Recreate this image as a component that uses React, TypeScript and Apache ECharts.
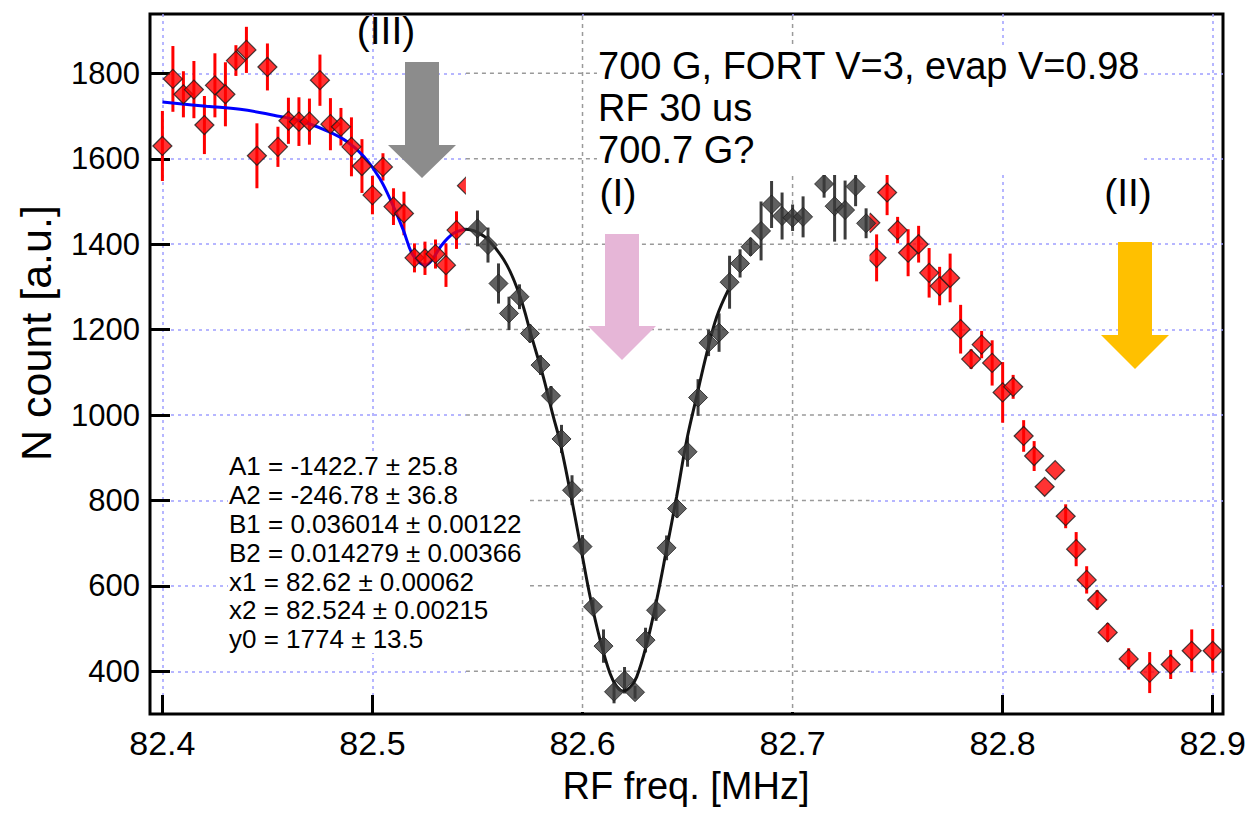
import React, { useEffect, useRef } from "react";
import * as echarts from "echarts";

// ---------- data ----------
const xTicks = [82.4, 82.5, 82.6, 82.7, 82.8, 82.9];
const yTicks = [400, 600, 800, 1000, 1200, 1400, 1600, 1800];

// red data set (full scan, partly hidden by the overlaid inset)
const redFreq = [
  82.4, 82.405, 82.41, 82.415, 82.42, 82.425, 82.43, 82.435, 82.44, 82.445,
  82.45, 82.455, 82.46, 82.465, 82.47, 82.475, 82.48, 82.485, 82.49, 82.495,
  82.5, 82.505, 82.51, 82.515, 82.52, 82.525, 82.53, 82.535, 82.54, 82.545,
  82.737, 82.74, 82.745, 82.75, 82.755, 82.76, 82.765, 82.77, 82.775, 82.78,
  82.785, 82.79, 82.795, 82.8, 82.805, 82.81, 82.815, 82.82, 82.825, 82.83,
  82.835, 82.84, 82.845, 82.85, 82.86, 82.87, 82.88, 82.89, 82.9,
];
const redCount = [
  1630, 1787, 1751, 1762, 1679, 1772, 1751, 1830, 1855, 1607,
  1815, 1628, 1689, 1687, 1687, 1784, 1681, 1675, 1628, 1583,
  1515, 1581, 1488, 1472, 1368, 1367, 1377, 1351, 1433, 1537,
  1450, 1368, 1521, 1433, 1380, 1400, 1333, 1302, 1321, 1201,
  1131, 1165, 1122, 1053, 1066, 951, 904, 832, 871, 763,
  686, 614, 567, 491, 429, 397, 416, 448, 448,
];
const redErr = [
  82, 77, 54, 67, 68, 75, 75, 36, 54, 76,
  55, 47, 54, 57, 54, 60, 61, 44, 69, 63,
  45, 32, 43, 51, 34, 39, 34, 51, 44, 0,
  0, 55, 53, 31, 55, 43, 58, 45, 57, 57,
  23, 32, 53, 71, 28, 37, 35, 0, 0, 28,
  40, 32, 23, 22, 25, 48, 34, 50, 51,
];

// dark data set (inset around the main resonance)
const darkFreq = [
  82.55, 82.555, 82.56, 82.565, 82.57, 82.575, 82.58, 82.585, 82.59, 82.595,
  82.6, 82.605, 82.61, 82.615, 82.62, 82.625, 82.63, 82.635, 82.64, 82.645,
  82.65, 82.655, 82.66, 82.665, 82.67, 82.675, 82.68, 82.685, 82.69, 82.695,
  82.7, 82.705, 82.715, 82.72, 82.725, 82.73, 82.735,
];
const darkCount = [
  1437, 1398, 1308, 1238, 1277, 1191, 1117, 1045, 944, 824,
  692, 551, 459, 352, 379, 351, 473, 543, 689, 781,
  914, 1041, 1169, 1193, 1311, 1355, 1394, 1431, 1493, 1466,
  1462, 1464, 1541, 1489, 1480, 1535, 1449,
];
const darkErr = [
  42, 41, 47, 39, 29, 21, 23, 23, 33, 35,
  27, 17, 39, 27, 31, 15, 29, 25, 29, 21,
  35, 43, 31, 45, 62, 33, 21, 69, 55, 55,
  31, 48, 32, 83, 69, 46, 35,
];

// fitted curves
const blueFitFreq = [
  82.4, 82.421, 82.437, 82.453, 82.4655, 82.478, 82.488, 82.496, 82.5035,
  82.51, 82.5147, 82.5187, 82.522, 82.525, 82.528, 82.533, 82.5385, 82.5441,
];
const blueFitCount = [
  1733, 1723, 1716, 1702, 1689, 1666, 1640, 1605, 1554,
  1488, 1433, 1379, 1359, 1351, 1361, 1398, 1425, 1435,
];
const blackFitFreq = [
  82.5441, 82.5496, 82.556, 82.564, 82.5703, 82.5758, 82.5813, 82.5861, 82.589,
  82.594, 82.5988, 82.6036, 82.6084, 82.6131, 82.6163, 82.6191, 82.6226, 82.6258,
  82.6306, 82.6353, 82.6401, 82.6448, 82.6496, 82.6544, 82.6591, 82.6639, 82.6694,
];
const blackFitCount = [
  1435, 1429, 1406, 1351, 1277, 1183, 1090, 996, 943,
  824, 700, 575, 473, 395, 364, 354, 362, 387,
  465, 567, 688, 809, 941, 1045, 1144, 1230, 1293,
];

// frequency range covered by the overlaid inset
const insetRange = [82.5445, 82.7366];

const fitText = [
  "A1 = -1422.7 ± 25.8",
  "A2 = -246.78 ± 36.8",
  "B1 = 0.036014 ± 0.00122",
  "B2 = 0.014279 ± 0.00366",
  "x1 = 82.62 ± 0.00062",
  "x2 = 82.524 ± 0.00215",
  "y0 = 1774 ± 13.5",
];
const titleText = ["700 G, FORT V=3, evap V=0.98", "RF 30 us", "700.7 G?"];

const FONT = '"Liberation Sans", Arial, sans-serif';
const X_MIN = 82.3941;
const X_MAX = 82.9049;
const Y_MIN = 300;
const Y_MAX = 1939;
const DIAMOND = "path://M0,10L10,0L20,10L10,20Z";

function zip3(a: number[], b: number[], c: number[]) {
  return a.map((v, i) => [v, b[i], c[i]]);
}
function zip2(a: number[], b: number[]) {
  return a.map((v, i) => [v, b[i]]);
}

function errorBarSeries(data: number[][], color: string, z: number) {
  return {
    type: "custom",
    z,
    silent: true,
    data: data.filter((d) => d[2] > 0),
    encode: { x: 0, y: 1 },
    renderItem: (_params: any, api: any) => {
      const f = api.value(0);
      const c = api.value(1);
      const e = api.value(2);
      const p1 = api.coord([f, c - e]);
      const p2 = api.coord([f, c + e]);
      return {
        type: "line",
        shape: { x1: p1[0], y1: p1[1], x2: p2[0], y2: p2[1] },
        style: { stroke: color, lineWidth: 3 },
      };
    },
  };
}

function arrow(
  sx1: number, sx2: number, top: number, headY: number,
  hx1: number, hx2: number, tipY: number, color: string
) {
  const tipX = (hx1 + hx2) / 2;
  return {
    type: "polygon",
    z: 20,
    silent: true,
    shape: {
      points: [
        [sx1, top], [sx2, top], [sx2, headY], [hx2, headY],
        [tipX, tipY], [hx1, headY], [sx1, headY],
      ],
    },
    style: { fill: color },
  };
}

export default function App() {
  const ref = useRef<HTMLDivElement>(null);

  useEffect(() => {
    document.body.style.margin = "0";
    if (!ref.current) return;
    const chart = echarts.init(ref.current, null, { renderer: "svg" });

    const option: any = {
      animation: false,
      backgroundColor: "#ffffff",
      grid: {
        left: 150,
        right: 28,
        top: 14,
        bottom: 103,
        show: true,
        borderColor: "#000",
        borderWidth: 3,
        backgroundColor: "transparent",
      },
      xAxis: {
        type: "value",
        min: X_MIN,
        max: X_MAX,
        axisLine: { show: false },
        axisTick: {
          show: true,
          inside: true,
          length: 19,
          customValues: xTicks,
          lineStyle: { color: "#000", width: 3 },
        },
        axisLabel: {
          customValues: xTicks,
          formatter: (v: number) => v.toFixed(1),
          fontFamily: FONT,
          fontSize: 34,
          color: "#000",
          margin: 12,
        },
        splitLine: {
          show: true,
          lineStyle: { color: "#9e9eff", width: 1.5, type: [3, 4] },
        },
      },
      yAxis: {
        type: "value",
        min: Y_MIN,
        max: Y_MAX,
        axisLine: { show: false },
        axisTick: {
          show: true,
          inside: true,
          length: 20,
          customValues: yTicks,
          lineStyle: { color: "#000", width: 3 },
        },
        axisLabel: {
          customValues: yTicks,
          formatter: (v: number) => String(Math.round(v)),
          fontFamily: FONT,
          fontSize: 31,
          color: "#000",
          margin: 10,
        },
        splitLine: {
          show: true,
          lineStyle: { color: "#9e9eff", width: 1.5, type: [3, 4] },
        },
      },
      series: [
        errorBarSeries(zip3(redFreq, redCount, redErr), "#ff0000", 2),
        {
          type: "scatter",
          z: 2,
          data: zip2(redFreq, redCount),
          symbol: DIAMOND,
          symbolSize: 19,
          itemStyle: { color: "#ff0000", borderColor: "#1a1a1a", borderWidth: 1.2 },
        },
        {
          type: "line",
          z: 2,
          data: zip2(blueFitFreq, blueFitCount),
          smooth: 0.4,
          showSymbol: false,
          lineStyle: { color: "#0000ff", width: 3 },
        },
        {
          // white inset background with its own grey dashed grid
          type: "custom",
          z: 3,
          silent: true,
          data: [[82.6, 1000]],
          encode: { x: 0, y: 1 },
          renderItem: (params: any, api: any) => {
            const cs = params.coordSys;
            const xl = api.coord([insetRange[0], Y_MIN])[0];
            const xr = api.coord([insetRange[1], Y_MIN])[0];
            const top = cs.y + 2;
            const bottom = cs.y + cs.height - 2;
            const children: any[] = [
              { type: "rect", shape: { x: xl, y: top, width: xr - xl, height: bottom - top }, style: { fill: "#fff" } },
            ];
            yTicks.forEach((v) => {
              const y = api.coord([insetRange[0], v])[1];
              children.push({
                type: "line",
                shape: { x1: xl, y1: y, x2: xr, y2: y },
                style: { stroke: "#9a9a9a", lineWidth: 1.5, lineDash: [4, 4] },
              });
            });
            xTicks.forEach((f) => {
              if (f > insetRange[0] && f < insetRange[1]) {
                const x = api.coord([f, Y_MIN])[0];
                children.push({
                  type: "line",
                  shape: { x1: x, y1: top, x2: x, y2: bottom },
                  style: { stroke: "#9a9a9a", lineWidth: 1.5, lineDash: [4, 4] },
                });
              }
            });
            return { type: "group", children };
          },
        },
        errorBarSeries(zip3(darkFreq, darkCount, darkErr), "#3c3c3c", 4),
        {
          type: "scatter",
          z: 4,
          data: zip2(darkFreq, darkCount),
          symbol: DIAMOND,
          symbolSize: 19,
          itemStyle: { color: "#3a3a3a", borderColor: "#1a1a1a", borderWidth: 1 },
        },
        {
          type: "line",
          z: 4,
          data: zip2(blackFitFreq, blackFitCount),
          smooth: 0.4,
          showSymbol: false,
          lineStyle: { color: "#141414", width: 3 },
        },
      ],
      graphic: [
        // fit parameter box
        { type: "rect", z: 10, silent: true, shape: { x: 228, y: 452, width: 302, height: 201 }, style: { fill: "#fff" } },
        {
          type: "text",
          z: 11,
          silent: true,
          x: 229,
          y: 452,
          style: {
            text: fitText.join("\n"),
            font: `26px ${FONT}`,
            lineHeight: 28.8,
            fill: "#000",
            textAlign: "left",
            textVerticalAlign: "top",
          },
        },
        // title box
        { type: "rect", z: 10, silent: true, shape: { x: 597, y: 48, width: 543, height: 127 }, style: { fill: "#fff" } },
        {
          type: "text",
          z: 11,
          silent: true,
          x: 598,
          y: 45,
          style: {
            text: titleText.join("\n"),
            font: `38px ${FONT}`,
            lineHeight: 42,
            fill: "#000",
            textAlign: "left",
            textVerticalAlign: "top",
          },
        },
        // labels
        { type: "text", z: 21, silent: true, x: 386, y: 30, style: { text: "(III)", font: `39px ${FONT}`, fill: "#000", textAlign: "center", textVerticalAlign: "middle" } },
        { type: "text", z: 21, silent: true, x: 618, y: 192, style: { text: "(I)", font: `39px ${FONT}`, fill: "#000", textAlign: "center", textVerticalAlign: "middle" } },
        { type: "text", z: 21, silent: true, x: 1128, y: 192, style: { text: "(II)", font: `39px ${FONT}`, fill: "#000", textAlign: "center", textVerticalAlign: "middle" } },
        // arrows
        arrow(405, 439, 62, 145, 388, 456, 178, "#8c8c8c"),
        arrow(605, 639, 234, 326, 588, 656, 360, "#e6b6d7"),
        arrow(1118, 1152, 242, 335, 1101, 1169, 369, "#ffc000"),
        // axis names
        {
          type: "text",
          z: 21,
          silent: true,
          x: 686,
          y: 786,
          style: { text: "RF freq. [MHz]", font: `38px ${FONT}`, fill: "#000", textAlign: "center", textVerticalAlign: "middle" },
        },
        {
          type: "text",
          z: 21,
          silent: true,
          x: 36,
          y: 333,
          rotation: Math.PI / 2,
          style: { text: "N count [a.u.]", font: `43px ${FONT}`, fill: "#000", textAlign: "center", textVerticalAlign: "middle" },
        },
      ],
    };

    chart.setOption(option);
    return () => chart.dispose();
  }, []);

  return <div ref={ref} style={{ width: 1251, height: 817 }} />;
}
